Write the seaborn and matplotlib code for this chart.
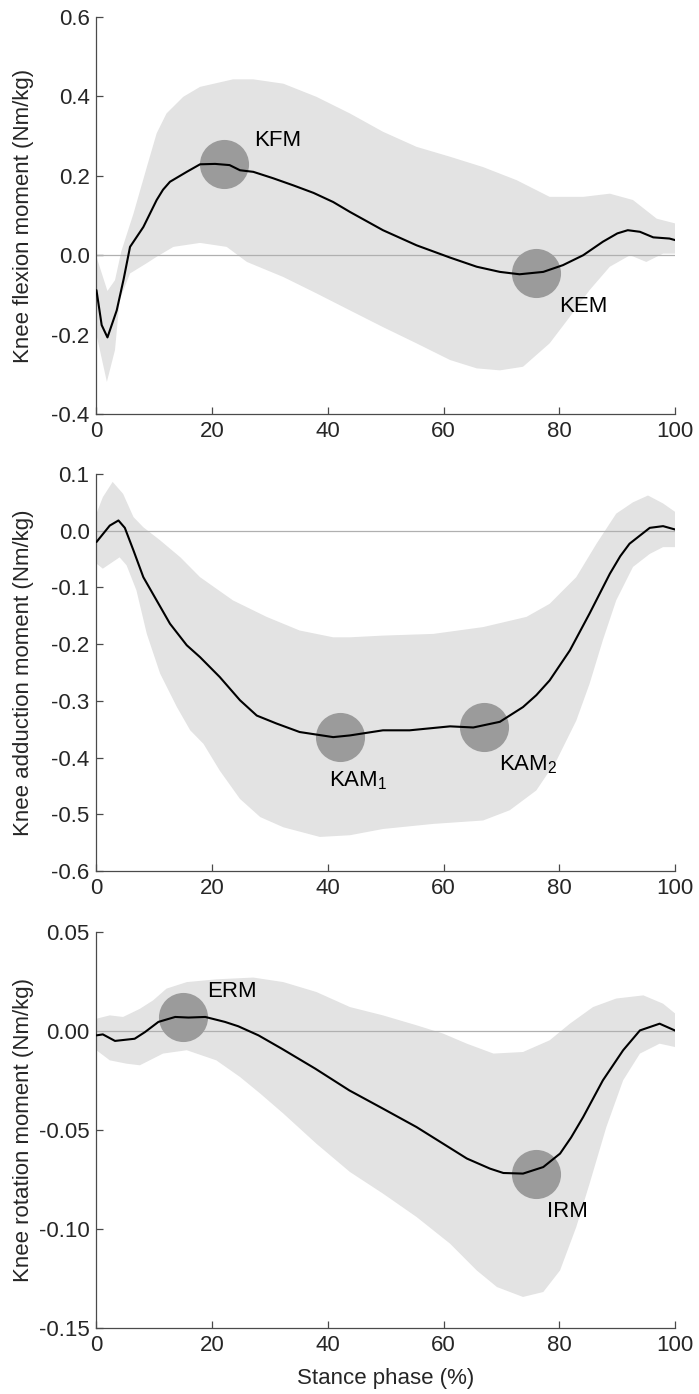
import numpy as np
import pandas as pd
import matplotlib
matplotlib.use("Agg")
import matplotlib.pyplot as plt
from matplotlib.ticker import FormatStrFormatter
import seaborn as sns

# ---------------- data ----------------
# Panel 1: knee flexion moment
kfm_x = [0, 0.9, 1.9, 3.5, 4.7, 5.8, 8.1, 10.4, 11.5, 12.7, 15.6, 17.9, 20.5, 23, 24.8, 27.1, 30.5, 34, 37.5,
         40.9, 43.8, 49.5, 55.3, 61.1, 65.7, 69.7, 73.1, 77.2, 80.6, 84.1, 87.5, 90, 91.8, 93.9, 96.2, 99, 100]
kfm_y = [-0.088, -0.176, -0.207, -0.139, -0.06, 0.021, 0.071, 0.139, 0.165, 0.185, 0.21, 0.229, 0.23, 0.227,
         0.214, 0.21, 0.194, 0.176, 0.157, 0.134, 0.109, 0.063, 0.025, -0.006, -0.029, -0.042, -0.048, -0.042,
         -0.025, 0.0, 0.034, 0.055, 0.063, 0.059, 0.045, 0.042, 0.038]
kfm_up_x = [0, 1.9, 3.2, 4.3, 6.4, 8.7, 10.4, 12.1, 15, 17.9, 23.6, 27.1, 32.3, 38, 43.8, 49.5, 55.3,
            61.1, 66.8, 72.6, 78.3, 84.1, 88.7, 92.7, 96.8, 100]
kfm_up = [-0.004, -0.09, -0.063, 0.01, 0.105, 0.222, 0.307, 0.357, 0.399, 0.424, 0.443, 0.443, 0.432,
          0.399, 0.357, 0.311, 0.273, 0.248, 0.222, 0.189, 0.147, 0.147, 0.155, 0.139, 0.092, 0.08]
kfm_lo_x = [0, 1.8, 3.2, 4.0, 5.8, 8.7, 10.4, 13.3, 17.9, 22.5, 26, 32.3, 38, 43.8, 49.5, 55.3, 61.1,
            65.7, 69.7, 73.7, 78.3, 81.8, 85.2, 88.7, 92.2, 95, 97.9, 100]
kfm_lo = [-0.2, -0.319, -0.239, -0.113, -0.046, -0.02, -0.004, 0.021, 0.031, 0.021, -0.017, -0.055,
          -0.096, -0.139, -0.181, -0.222, -0.264, -0.285, -0.29, -0.281, -0.222, -0.155, -0.088, -0.029,
          0.0, -0.017, 0.004, 0.004]

# Panel 2: knee adduction moment
kam_x = [0, 2.3, 3.8, 4.9, 6.4, 8.1, 10.4, 12.7, 15.6, 17.9, 21.3, 24.8, 27.7, 31.1, 35.1, 40.9, 43.8,
         49.5, 54.1, 61.1, 65.1, 69.7, 73.7, 76, 78.3, 81.8, 85.2, 88.7, 90.5, 92.1, 95.6, 97.9, 100]
kam_y = [-0.020, 0.009, 0.018, 0.005, -0.035, -0.082, -0.123, -0.164, -0.202, -0.223, -0.258, -0.299,
         -0.326, -0.340, -0.355, -0.364, -0.361, -0.352, -0.352, -0.345, -0.347, -0.337, -0.311, -0.290,
         -0.264, -0.211, -0.146, -0.076, -0.045, -0.023, 0.005, 0.008, 0.002]
kam_up_x = [0, 1.1, 2.8, 4.6, 6.4, 8.1, 11, 14.5, 17.9, 23.6, 29.4, 35.1, 40.9, 43.8, 49.5, 58.2, 66.8,
            74.3, 78.3, 82.9, 86.4, 89.8, 92.7, 95.3, 97.9, 100]
kam_up = [0.030, 0.059, 0.086, 0.065, 0.024, 0.006, -0.017, -0.047, -0.082, -0.123, -0.152, -0.176,
          -0.188, -0.188, -0.185, -0.182, -0.170, -0.152, -0.129, -0.082, -0.023, 0.030, 0.050, 0.062,
          0.048, 0.033]
kam_lo_x = [0, 1.1, 4.0, 5.2, 6.9, 8.7, 11, 13.9, 16.2, 18.5, 21.3, 24.8, 28.3, 32.3, 38.6, 43.8, 49.5,
            58.2, 66.8, 71.4, 76, 79.5, 82.9, 85.2, 87.5, 89.8, 92.7, 95.6, 97.9, 100]
kam_lo = [-0.058, -0.067, -0.047, -0.061, -0.105, -0.182, -0.252, -0.311, -0.352, -0.376, -0.423,
          -0.473, -0.505, -0.523, -0.540, -0.537, -0.526, -0.517, -0.511, -0.493, -0.458, -0.405,
          -0.335, -0.270, -0.193, -0.123, -0.064, -0.041, -0.029, -0.029]

# Panel 3: knee rotation moment
krm_x = [0, 1.1, 3.2, 6.6, 8.4, 10.7, 13.6, 15.9, 18.8, 22.2, 24.5, 28, 32, 37.8, 43.7, 49.5, 55.3,
         59.9, 64, 68, 70.3, 73.7, 77.2, 80.1, 82, 84.1, 87.5, 91, 93.9, 97.3, 100]
krm_y = [-0.0024, -0.0019, -0.0052, -0.0041, -0.0007, 0.0044, 0.0069, 0.0066, 0.0069, 0.0044, 0.0022,
         -0.0024, -0.0091, -0.0192, -0.0302, -0.0394, -0.0487, -0.0571, -0.0646, -0.0697, -0.0719,
         -0.0722, -0.0689, -0.0621, -0.054, -0.0436, -0.0251, -0.0099, 0.0001, 0.0035, 0.0]
krm_up_x = [0, 2.3, 4.6, 7.5, 9.8, 12.1, 15.6, 20.7, 27.1, 32.3, 38, 43.8, 49.5, 55.3, 59.9, 64, 68.6,
            73.7, 78.3, 81.8, 85.8, 89.8, 94.5, 97.9, 100]
krm_up = [0.006, 0.0077, 0.0069, 0.011, 0.0153, 0.0212, 0.0245, 0.0259, 0.0268, 0.0245, 0.0195, 0.0119,
          0.0077, 0.0027, -0.0015, -0.0066, -0.0116, -0.0108, -0.0049, 0.0035, 0.0119, 0.0162, 0.0178,
          0.0136, 0.0086]
krm_lo_x = [0, 2.3, 5.2, 7.5, 9.2, 11.5, 15.6, 20.7, 24.8, 28.3, 32.3, 38, 43.8, 49.5, 55.3, 61.1, 65.7,
            69.2, 73.7, 77.2, 80.1, 82.9, 85.2, 88.1, 91, 93.9, 97.3, 100]
krm_lo = [-0.0099, -0.015, -0.0167, -0.0175, -0.015, -0.0116, -0.0099, -0.015, -0.0234, -0.0318, -0.0419,
          -0.0571, -0.0714, -0.0823, -0.0941, -0.1076, -0.1211, -0.1295, -0.1345, -0.132, -0.1211,
          -0.0992, -0.0773, -0.0487, -0.0251, -0.0116, -0.0066, -0.0083]

# Peak markers and labels
kfm_peaks_x = [22, 76]
kfm_peaks_y = [0.229, -0.046]
kfm_labels = ["KFM", "KEM"]
kam_peaks_x = [42, 67]
kam_peaks_y = [-0.364, -0.347]
kam_labels = ["KAM$_\\mathregular{1}$", "KAM$_\\mathregular{2}$"]
krm_peaks_x = [15, 76]
krm_peaks_y = [0.0069, -0.0726]
krm_labels = ["ERM", "IRM"]

ylabels = ["Knee flexion moment (Nm/kg)", "Knee adduction moment (Nm/kg)",
           "Knee rotation moment (Nm/kg)"]
xlabel = "Stance phase (%)"
x_ticks = [0, 20, 40, 60, 80, 100]
y_ticks = [[-0.4, -0.2, 0.0, 0.2, 0.4, 0.6],
           [-0.6, -0.5, -0.4, -0.3, -0.2, -0.1, 0.0, 0.1],
           [-0.15, -0.10, -0.05, 0.00, 0.05]]

# ---------------- style ----------------
sns.set_theme(style="ticks")
plt.rcParams["font.family"] = ["Liberation Sans", "DejaVu Sans"]
plt.rcParams["axes.unicode_minus"] = False
plt.rcParams["mathtext.fontset"] = "custom"
plt.rcParams["mathtext.rm"] = "Liberation Sans"

FS = 16
BAND = "#e3e3e3"
CIRC = "#9b9b9b"
SPINE = "#4a4a4a"
TXT = "#262626"

fig = plt.figure(figsize=(6.99, 13.94), dpi=100)
left, width = 0.138, 0.828
rects = [(left, 0.703, width, 0.2848),
         (left, 0.3752, width, 0.2848),
         (left, 0.0476, width, 0.2841)]

panels = [
    (kfm_x, kfm_y, kfm_up_x, kfm_up, kfm_lo_x, kfm_lo, kfm_peaks_x, kfm_peaks_y, kfm_labels,
     [(27.3, 0.29), (80.0, -0.128)], "%.1f"),
    (kam_x, kam_y, kam_up_x, kam_up, kam_lo_x, kam_lo, kam_peaks_x, kam_peaks_y, kam_labels,
     [(40.2, -0.441), (69.6, -0.412)], "%.1f"),
    (krm_x, krm_y, krm_up_x, krm_up, krm_lo_x, krm_lo, krm_peaks_x, krm_peaks_y, krm_labels,
     [(19.2, 0.0199), (77.9, -0.0913)], "%.2f"),
]

for i, (rect, p) in enumerate(zip(rects, panels)):
    mx, my, ux, uy, lx, ly, px, py, labs, lpos, fmt = p
    ax = fig.add_axes(rect)
    # SD band
    poly_x = np.concatenate([ux, lx[::-1]])
    poly_y = np.concatenate([uy, ly[::-1]])
    ax.fill(poly_x, poly_y, color=BAND, lw=0, zorder=1)
    # zero line
    ax.axhline(0, color="#b0b0b0", lw=0.9, zorder=2)
    # peak circles
    sns.scatterplot(x=px, y=py, ax=ax, s=1250, color=CIRC, linewidth=0, zorder=3, legend=False)
    # mean curve
    df = pd.DataFrame({"x": mx, "y": my})
    sns.lineplot(data=df, x="x", y="y", ax=ax, color="black", lw=1.5, zorder=4,
                 estimator=None, sort=False)
    for lab, (tx, ty) in zip(labs, lpos):
        ax.text(tx, ty, lab, fontsize=FS, color="black", ha="left", va="center", zorder=5)

    ax.set_xlim(0, 100)
    ax.set_ylim(y_ticks[i][0], y_ticks[i][-1])
    ax.set_xticks(x_ticks)
    ax.set_yticks(y_ticks[i])
    ax.yaxis.set_major_formatter(FormatStrFormatter(fmt))
    ax.xaxis.set_major_formatter(FormatStrFormatter("%d"))
    for s in ["top", "right"]:
        ax.spines[s].set_visible(False)
    for s in ["left", "bottom"]:
        ax.spines[s].set_color(SPINE)
        ax.spines[s].set_linewidth(0.9)
    ax.tick_params(direction="in", length=5, width=0.9, color=SPINE,
                   labelsize=FS, labelcolor=TXT, pad=5)
    ax.set_ylabel(ylabels[i], fontsize=FS, color=TXT)
    ax.yaxis.set_label_coords(-0.108, 0.5)
    ax.set_facecolor("white")
    if i == 2:
        ax.set_xlabel(xlabel, fontsize=FS, color=TXT, labelpad=9)
    else:
        ax.set_xlabel("")

fig.savefig("out.png", dpi=100, facecolor="white")
